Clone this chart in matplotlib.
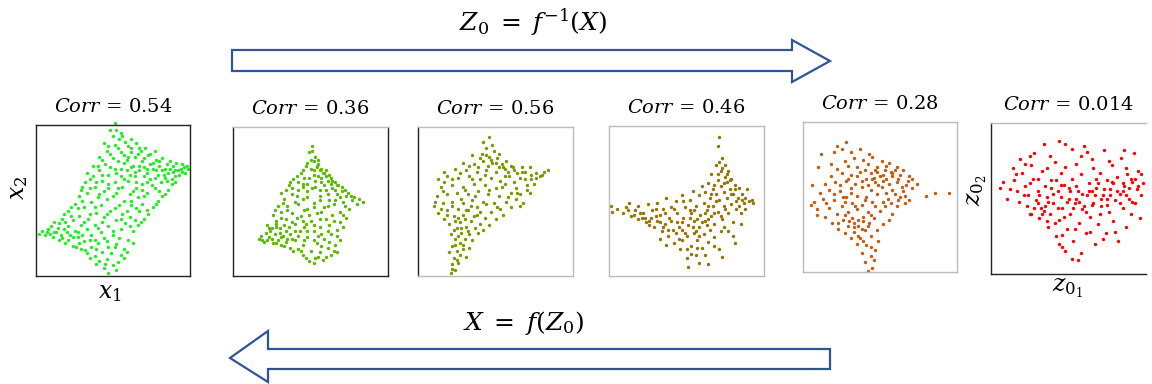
import matplotlib
matplotlib.use("Agg")
import matplotlib.pyplot as plt
from matplotlib.patches import Polygon

plt.rcParams['mathtext.fontset'] = 'dejavuserif'
plt.rcParams['font.family'] = 'DejaVu Serif'

# scatter points, in percent of each panel box (x, y)
p1 = [(47,2),(44,5),(50,7),(41,10),(46,11),(53,9),(38,13),(49,15),(43,16),(33,15),(55,14),(29,18),(36,19),(47,19),
      (52,21),(24,20),(40,22),(57,18),(31,23),(19,22),(44,25),(15,24),(27,26),(50,27),(60,24),(36,27),(11,26),(22,27),
      (6,27),(2,28),(13,29),(18,31),(8,31),(25,30),(33,31),(42,29),(55,31),(63,30),(47,33),(38,34),(29,34),(21,33),
      (15,35),(58,35),(66,34),(10,33),(24,37),(34,38),(52,37),(44,39),(61,39),(70,38),(17,38),(28,40),(39,42),(48,43),
      (56,41),(67,43),(73,41),(21,43),(31,46),(42,47),(51,45),(62,47),(76,46),(69,48),(25,48),(36,49),(57,50),(46,51),
      (79,50),(66,52),(28,53),(33,55),(41,54),(52,55),(61,54),(72,55),(82,53),(47,58),(38,59),(56,59),(65,58),(77,58),
      (86,57),(29,57),(32,62),(43,63),(51,62),(60,63),(69,61),(81,62),(88,61),(74,64),(37,66),(47,67),(55,66),(64,66),
      (84,65),(90,66),(79,67),(33,68),(41,70),(51,71),(59,70),(67,70),(72,68),(76,71),(82,70),(86,68),(92,70),(96,72),
      (99,71),(89,73),(85,74),(80,73),(74,74),(63,73),(57,75),(45,74),(37,73),(69,76),(78,77),(91,75),(50,78),(41,79),
      (60,79),(66,81),(73,80),(82,78),(55,82),(46,83),(71,85),(62,85),(77,83),(51,87),(58,89),(44,88),(65,88),(50,93),
      (55,95),(48,97),(51,101),(97,68),(93,67),(87,71),(70,72),(64,69),(12,29),(16,27),(20,29),(7,29),(24,26),(30,27),
      (35,24),(39,18),(45,8),(88,64),(95,74),
      (39,8),(52,4),(35,12),(57,12),(26,19),(32,17),(51,19),(59,16),(21,24),(38,24),(46,23),(63,22),(9,28),(17,25),
      (28,22),(54,25),(4,30),(14,32),(27,29),(40,32),(50,30),(61,33),(68,36),(19,36),(31,36),(43,36),(55,38),(64,37),
      (12,36),(23,40),(35,41),(46,41),(59,43),(72,44),(18,41),(27,45),(38,46),(54,47),(65,45),(78,48),(23,46),(30,50),
      (40,52),(50,53),(62,50),(70,53),(84,54),(35,58),(44,56),(53,58),(63,56),(69,57),(75,60),(80,56),(90,62),(30,59),
      (39,62),(47,61),(57,64),(65,62),(72,62),(85,63),(95,69),(35,64),(43,67),(52,68),(61,67),(70,66),(77,65),(83,67),
      (89,69),(40,73),(48,72),(55,71),(62,72),(67,73),(72,71),(78,70),(84,71),(90,70),(94,71),(98,73),(43,77),(53,76),
      (59,77),(64,79),(70,78),(76,75),(80,76),(87,76),(48,81),(57,80),(62,82),(68,83),(74,81),(53,85),(60,86),(67,85),
      (47,86),(54,91),(62,91),(52,97),(56,93)]
p2 = [(49,10),(53,12),(58,11),(63,14),(67,16),(45,14),(56,16),(42,18),(61,19),(50,17),(37,19),(31,21),(26,22),(20,23),
      (17,25),(23,26),(29,24),(34,23),(45,21),(54,22),(66,21),(69,24),(40,24),(48,26),(59,25),(21,29),(27,28),(32,27),
      (37,28),(43,30),(52,30),(63,28),(25,32),(30,32),(36,33),(46,33),(56,33),(67,31),(71,33),(22,34),(40,35),(50,37),
      (60,38),(28,37),(34,38),(65,37),(73,39),(44,40),(26,41),(31,43),(38,42),(54,42),(69,43),(48,45),(59,46),(35,47),
      (42,48),(65,48),(75,45),(29,47),(52,49),(80,48),(84,50),(77,51),(71,50),(62,51),(45,52),(33,52),(38,55),(56,54),
      (67,55),(73,54),(78,53),(48,57),(31,56),(60,58),(42,58),(70,57),(64,59),(53,60),(36,61),(45,62),(57,63),(67,61),
      (61,64),(39,65),(49,66),(55,67),(63,66),(58,69),(44,69),(52,71),(60,71),(47,74),(55,75),(57,72),(50,78),(53,80),
      (49,83),(51,87),(62,68),(66,63),(70,60),(74,56),(81,52),(24,30),(19,24),(35,25),(42,27),(57,28),(47,35),(30,29),
      (28,35),
      (52,9),(60,13),(47,12),(55,13),(65,17),(39,17),(44,17),(33,20),(28,22),(22,24),(57,20),(62,23),(52,24),(46,24),
      (18,27),(25,25),(31,26),(38,25),(67,27),(55,27),(61,30),(48,30),(40,30),(34,30),(23,32),(28,33),(52,34),(45,37),
      (38,36),(33,34),(62,34),(69,36),(56,38),(31,39),(41,39),(49,41),(64,41),(71,41),(35,44),(46,44),(57,43),(27,44),
      (61,47),(52,46),(72,47),(40,50),(56,51),(66,51),(32,49),(48,53),(61,55),(69,53),(41,54),(76,54),(34,58),(56,58),
      (66,58),(51,59),(38,59),(45,60),(59,61),(63,62),(42,63),(53,64),(48,62),(68,61),(72,58),(57,66),(46,66),(52,68),
      (41,67),(60,67),(50,72),(54,73),(56,71),(45,71),(48,76),(52,77),(54,74),(51,84),(55,78),(59,69),(64,64),(37,63)]
p3 = [(21,2),(24,4),(22,8),(26,9),(23,12),(27,14),(31,13),(25,17),(29,18),(22,20),(33,19),(27,22),(24,25),(30,25),
      (35,24),(21,28),(28,29),(33,28),(39,29),(25,32),(31,33),(37,32),(42,31),(20,35),(27,36),(34,37),(40,35),(46,34),
      (17,38),(23,40),(29,41),(36,40),(43,39),(50,38),(55,41),(13,42),(19,44),(26,45),(32,44),(38,46),(47,43),(53,45),
      (60,46),(66,47),(10,47),(16,49),(22,50),(29,49),(35,51),(42,50),(49,49),(57,50),(63,52),(68,49),(12,54),(19,55),
      (25,56),(32,55),(39,57),(45,55),(52,54),(60,56),(66,55),(72,56),(15,60),(22,61),(29,60),(36,62),(43,61),(50,59),
      (56,62),(63,59),(70,61),(75,62),(13,65),(19,67),(26,66),(33,67),(40,65),(47,66),(53,64),(59,67),(66,66),(73,65),
      (79,67),(17,70),(24,72),(31,71),(38,70),(44,71),(50,70),(56,72),(62,71),(69,70),(76,69),(84,71),(29,76),(36,75),
      (42,77),(48,76),(54,75),(60,74),(67,73),(35,81),(41,82),(46,80),(51,79),(57,77),(44,86),(49,84),(42,90),(46,93),
      (72,73),(80,68),(64,69),(52,73),(58,70),(45,74),(39,73),(28,32),(24,37),(30,38),
      (22,5),(25,11),(20,16),(24,21),(29,21),(23,31),(26,39),(19,41),(15,45),(22,47),(28,52),(34,47),(40,43),(44,48),
      (51,46),(58,53),(64,56),(70,58),(76,66),(81,70),(73,68),(67,70),(61,73),(55,73),(50,76),(47,78),(44,81),(48,88),
      (52,82),(40,79),(33,74),(27,69),(22,65),(17,63),(30,58),(37,54),(46,58),(54,60),(62,63),(69,65),(56,67),(43,68),
      (35,65),(31,44),(38,41),(26,27),(32,30),(16,57),(11,50)]
p4 = [(1,47),(2,43),(9,42),(11,46),(13,49),(14,40),(17,44),(19,38),(19,47),(22,42),(24,36),(25,48),(27,39),(28,44),
      (29,33),(31,37),(31,49),(33,41),(34,30),(35,45),(36,35),(37,52),(38,27),(39,39),(40,46),(41,31),(42,22),(43,50),
      (44,36),(44,42),(45,25),(46,18),(47,54),(47,31),(48,39),(49,46),(50,12),(50,27),(51,6),(51,34),(52,51),(53,20),
      (53,42),(54,57),(55,29),(55,37),(56,14),(56,47),(57,24),(58,54),(58,33),(59,41),(60,60),(60,19),(61,28),(61,49),
      (62,37),(62,56),(63,44),(64,23),(64,62),(65,31),(65,52),(66,40),(66,68),(67,47),(67,58),(68,26),(68,35),(69,74),
      (69,55),(70,43),(70,64),(70,87),(71,93),(71,51),(71,18),(72,30),(72,70),(72,60),(73,38),(73,79),(74,56),(74,47),
      (75,66),(75,74),(76,63),(76,52),(77,42),(77,70),(78,58),(79,48),(79,65),(80,27),(80,36),(80,55),(81,61),(82,45),
      (83,52),(84,59),(85,42),(85,35),(86,55),(87,49),(88,45),(89,58),(90,50),(92,51),(93,49),(73,13),(81,22),(64,8),
      (58,9),(37,21),(26,34),(21,39),(33,25),(47,24),(52,44),(57,38),(63,34),(68,42),
      (5,45),(12,44),(16,41),(20,42),(23,39),(26,37),(30,40),(33,36),(35,33),(38,31),(40,37),(43,29),(45,33),(47,36),
      (49,29),(52,39),(54,33),(56,30),(58,27),(60,36),(62,42),(64,47),(66,55),(68,61),(70,68),(71,76),(73,72),(74,62),
      (76,68),(78,64),(79,55),(81,58),(82,50),(84,47),(86,51),(75,45),(72,40),(69,50),(64,38),(55,44),(48,50),(42,45),
      (36,42),(30,45),(50,18),(53,15),(57,19),(62,14),(68,20),(74,33),(77,30),(88,52)]
p5 = [(42,1),(45,3),(40,7),(44,11),(38,13),(47,15),(41,18),(35,19),(49,21),(37,23),(44,24),(31,23),(27,26),(33,27),
      (40,28),(48,28),(23,29),(29,31),(36,31),(43,33),(52,32),(19,33),(26,35),(32,36),(39,37),(46,36),(56,35),(14,37),
      (22,39),(29,40),(35,42),(42,40),(50,41),(58,39),(9,42),(17,43),(25,44),(32,46),(38,45),(45,47),(53,44),(61,44),
      (66,46),(7,47),(13,49),(20,48),(28,50),(35,51),(41,50),(48,52),(55,49),(63,50),(69,48),(11,53),(17,55),(24,54),
      (31,56),(38,57),(44,55),(51,57),(58,55),(65,54),(71,56),(80,51),(86,53),(95,53),(14,59),(21,60),(28,61),(34,59),
      (41,62),(47,60),(54,62),(61,60),(68,61),(74,59),(18,64),(25,66),(31,65),(37,67),(44,66),(50,64),(57,67),(63,65),
      (69,64),(22,69),(29,71),(35,70),(42,72),(48,70),(54,71),(60,68),(27,74),(33,76),(39,75),(45,77),(51,74),(56,73),
      (31,80),(37,82),(43,79),(28,87),(20,80),(12,79),(10,70),(18,72),(6,58),(22,84),(25,82),(5,45),(9,38),(48,67),
      (53,68),(58,64),(46,63),(61,70),(65,68),(36,24),(33,33),(39,34),
      (33,30),(38,29),(42,31),(30,34),(36,35),(27,38),(23,33),(44,38),(34,44),(40,48),(47,44),(52,47),(57,46),(62,48),
      (66,51),(60,52),(54,53),(49,58),(45,62),(52,61),(56,59),(62,62),(67,58),(71,62),(64,57),(58,66),(52,65),(47,68),
      (40,68),(35,64),(29,62),(24,58),(20,52),(15,46),(27,47),(42,58),(38,61),(31,53),(26,50),(44,17),(46,8),(39,21)]
p6 = [(6,57),(8,61),(10,50),(14,70),(15,62),(17,55),(18,48),(19,76),(20,67),(22,58),(23,45),(24,52),(25,40),(26,72),
      (27,63),(28,80),(29,49),(30,55),(31,37),(32,44),(33,68),(34,86),(35,58),(36,51),(37,31),(38,40),(39,62),(40,47),
      (41,74),(42,25),(43,55),(44,36),(45,67),(46,18),(46,44),(47,59),(48,86),(49,30),(50,50),(51,40),(52,63),(53,22),
      (54,47),(55,73),(56,9),(56,55),(57,34),(58,66),(59,43),(60,85),(61,27),(62,52),(63,60),(64,38),(65,76),(66,47),
      (67,20),(68,57),(69,33),(70,67),(71,45),(72,52),(73,82),(74,27),(75,62),(76,41),(77,56),(78,72),(79,35),(80,49),
      (81,64),(82,22),(83,53),(84,77),(85,44),(86,58),(87,31),(88,66),(89,50),(90,40),(91,61),(92,80),(93,47),(94,56),
      (95,68),(96,37),(97,52),(98,60),(44,88),(52,83),(38,78),(62,81),(30,47),(35,45),(45,51),(55,50),(65,55),(75,50),
      (85,55),(90,63),(70,40),(60,45),(50,57),(40,53),(33,40),(48,15),(58,14),(72,23),(80,28),(87,70),(78,61),(68,63),
      (30,63),(22,73),(26,40),(36,35),(46,26),
      (12,56),(16,66),(21,52),(25,60),(28,44),(31,52),(34,42),(37,48),(39,57),(41,34),(43,44),(45,59),(47,38),(49,48),
      (51,55),(53,44),(55,58),(57,48),(59,53),(61,41),(63,55),(65,46),(67,52),(69,60),(71,50),(73,56),(75,46),(77,52),
      (79,60),(81,55),(83,47),(85,60),(87,52),(89,57),(91,48),(93,63),(95,58),(97,66),(42,62),(48,71),(58,78),(66,70),
      (76,75),(86,82),(54,30),(64,28),(44,20),(36,70),(25,78),(52,10)]

panels = [p1, p2, p3, p4, p5, p6]
corr_labels = ['0.54', '0.36', '0.56', '0.46', '0.28', '0.014']
colors = ['#1ef01e', '#5cb800', '#7a9900', '#957500', '#c55a11', '#ff0000']

W, H = 1152, 384
# box pixel rects: left, top, width, height
boxes = [(36, 125, 154, 151), (233, 127, 155, 149), (418, 127, 155, 149),
         (609, 126, 155, 150), (803, 122, 154, 150), (991, 123, 155, 151)]
# spine colours: left, right, top, bottom
dk, lt = '#222222', '#bbbbbb'
spines = [(dk, dk, dk, dk), (dk, dk, lt, dk), (dk, lt, lt, lt),
          (lt, lt, lt, lt), (lt, lt, lt, lt), (dk, 'none', lt, dk)]

fig = plt.figure(figsize=(W / 100, H / 100), dpi=100)

# background axes in pixel coords for arrows and text
bg = fig.add_axes([0, 0, 1, 1])
bg.set_xlim(0, W)
bg.set_ylim(H, 0)
bg.axis('off')

arrow_kw = dict(closed=True, facecolor='white', edgecolor='#2f5597', lw=1.6)
bg.add_patch(Polygon([(232, 50), (792, 50), (792, 40), (830, 61), (792, 82), (792, 71), (232, 71)], **arrow_kw))
bg.add_patch(Polygon([(830, 349), (268, 349), (268, 331), (230, 358), (268, 382), (268, 369), (830, 369)], **arrow_kw))
bg.text(533, 22, r'$Z_0\;=\;f^{-1}(X)$', fontsize=18, ha='center', va='center')
bg.text(523, 323, r'$X\;=\;f(Z_0)$', fontsize=18, ha='center', va='center')

for pts, lab, col, (l, t, w, h), sc in zip(panels, corr_labels, colors, boxes, spines):
    ax = fig.add_axes([l / W, (H - t - h) / H, w / W, h / H])
    xs = [p[0] / 100 for p in pts]
    ys = [p[1] / 100 for p in pts]
    ax.scatter(xs, ys, s=6, color=col, linewidths=0, clip_on=False)
    ax.set_xlim(0, 1)
    ax.set_ylim(0, 1)
    ax.set_xticks([])
    ax.set_yticks([])
    for side, c in zip(['left', 'right', 'top', 'bottom'], sc):
        ax.spines[side].set_color(c)
        ax.spines[side].set_linewidth(1.0)
    bg.text(l + w / 2, t - 18, r'$Corr$ = ' + lab, fontsize=14, ha='center', va='center')

bg.text(110, 293, r'$x_1$', fontsize=17, ha='center', va='center')
bg.text(18, 188, r'$x_2$', fontsize=17, ha='center', va='center', rotation=90)
bg.text(1068, 288, r'$z_{0_1}$', fontsize=17, ha='center', va='center')
bg.text(977, 190, r'$z_{0_2}$', fontsize=17, ha='center', va='center', rotation=90)

fig.savefig('out.png', dpi=100)
